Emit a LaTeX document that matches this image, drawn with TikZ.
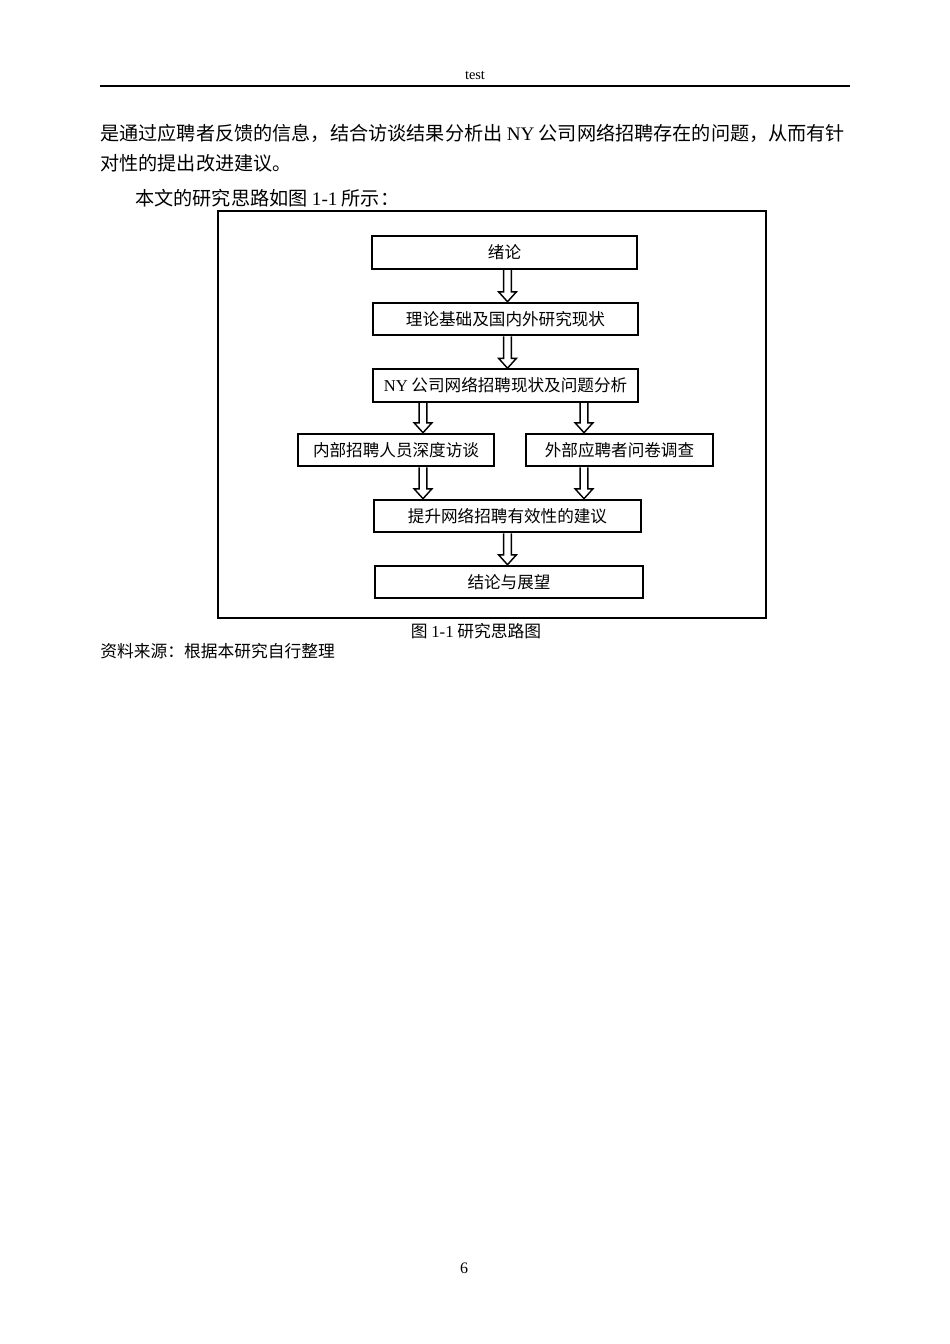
\documentclass[tikz,border=0pt]{standalone}
\usepackage{fontspec}
\setmainfont{Liberation Serif}
\newfontfamily\cjk{Noto Sans CJK SC}
\usetikzlibrary{calc}
\tikzset{
	flowbox/.style={draw, line width=1.2pt, minimum height=20.5pt, inner sep=0pt, font=\cjk\fontsize{10.4}{12}\selectfont},
	hollow/.style={line width=0.9pt, line join=miter},
	bodytext/.style={anchor=west, inner sep=0pt, font=\cjk\fontsize{12}{14}\selectfont}
}
\newcommand{\blockarrow}[2]{%
	\draw[hollow] let \p1=(#1), \p2=(#2) in
		(\x1-2.4pt,\y1) -- (\x1-2.4pt,\y2+6.2pt) -- (\x1-5.6pt,\y2+6.2pt) -- (\x1,\y2)
		-- (\x1+5.6pt,\y2+6.2pt) -- (\x1+2.4pt,\y2+6.2pt) -- (\x1+2.4pt,\y1);}
\begin{document}
\begin{tikzpicture}[x=0.6266pt, y=-0.6266pt]
		\fill[white] (0,0) rectangle (950,1344);
		\useasboundingbox (0,0) rectangle (950,1344);
		\node[font=\fontsize{9}{11}\selectfont] (header) at (475,76) {test};
		\draw[line width=0.8pt] (100,86) -- (850,86);
		\node[bodytext] (line1) at (100,133) {是通过应聘者反馈的信息，结合访谈结果分析出 {\rmfamily NY} 公司网络招聘存在的问题，从而有针};
		\node[bodytext] (line2) at (100,163) {对性的提出改进建议。};
		\node[bodytext] (line3) at (135,198) {本文的研究思路如图 {\rmfamily 1-1} 所示：};
		\draw[line width=0.9pt] (218,211) rectangle (766,618);
		\node[flowbox, minimum width=166pt] (xulun) at (504.5,252.5) {绪论};
		\node[flowbox, minimum width=166pt] (lilun) at (505.5,319) {理论基础及国内外研究现状};
		\node[flowbox, minimum width=166pt] (ny) at (505.5,385.5) {{\rmfamily NY} 公司网络招聘现状及问题分析};
		\node[flowbox, minimum width=122.8pt] (neibu) at (396,450) {内部招聘人员深度访谈};
		\node[flowbox, minimum width=117.2pt] (waibu) at (619.5,450) {外部应聘者问卷调查};
		\node[flowbox, minimum width=167.3pt] (tisheng) at (507.5,516) {提升网络招聘有效性的建议};
		\node[flowbox, minimum width=168pt] (jielun) at (509,582) {结论与展望};
		\coordinate (colL) at (423,0);
		\coordinate (colM) at (507.5,0);
		\coordinate (colR) at (584,0);
		\foreach \a/\b/\c in {xulun/lilun/colM, lilun/ny/colM, ny/neibu/colL, ny/waibu/colR,
				neibu/tisheng/colL, waibu/tisheng/colR, tisheng/jielun/colM} {
					\blockarrow{\a.south -| \c}{\b.north -| \c}
				}
		\node[font=\cjk\fontsize{10.5}{12}\selectfont] (caption) at (476,631) {图 {\rmfamily 1-1} 研究思路图};
		\node[anchor=west, inner sep=0pt, font=\cjk\fontsize{10.5}{12}\selectfont] (source) at (100,651) {资料来源：根据本研究自行整理};
		\node[font=\fontsize{10}{12}\selectfont] (pagenum) at (464,1268) {6};
\end{tikzpicture}
\end{document}
